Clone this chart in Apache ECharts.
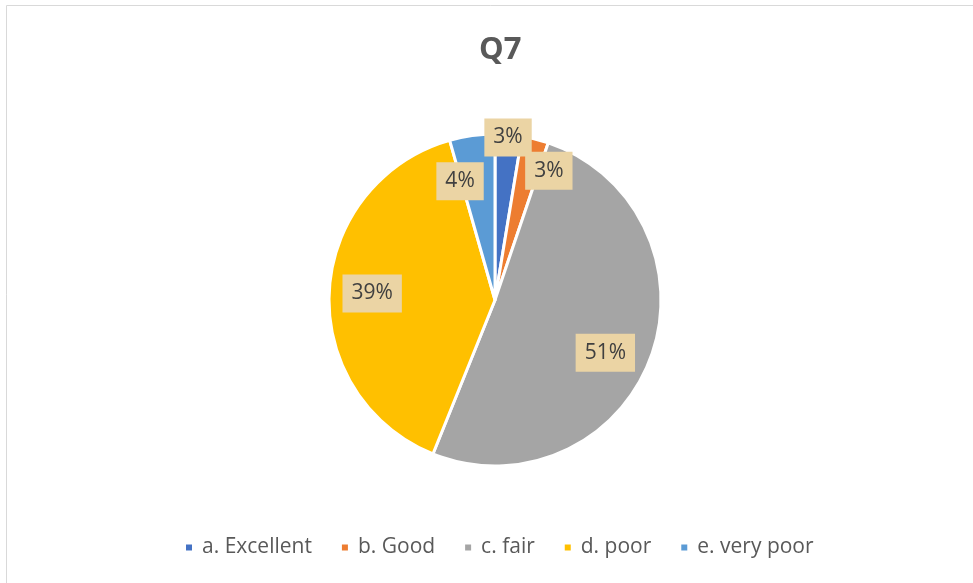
<!DOCTYPE html>
<html>
<head>
<meta charset="utf-8">
<script src="https://cdn.jsdelivr.net/npm/echarts@6/dist/echarts.min.js"></script>
<style>
html,body{margin:0;padding:0;background:#fff;}
#chart{width:973px;height:583px;}
</style>
</head>
<body>
<div id="chart"></div>
<script>
// ---- data ----
const chartTitle = 'Q7';
const categories = ['a. Excellent', 'b. Good', 'c. fair', 'd. poor', 'e. very poor'];
const values = [2.6, 2.6, 50.9, 39.5, 4.4];
const labelTexts = ['3%', '3%', '51%', '39%', '4%'];

// ---- styling ----
const colors = ['#4472C4', '#ED7D31', '#A5A5A5', '#FFC000', '#5B9BD5'];
// label nudges (layout only, pixels) to mimic Excel "best fit"
const labelNudges = [[3, -40], [24, -10], [-5, 10], [0, 0], [-18, 3]];

const chart = echarts.init(document.getElementById('chart'), null, {renderer: 'canvas'});
const pieData = categories.map((c, i) => ({name: c, value: values[i]}));

chart.setOption({
  animation: false,
  color: colors,
  graphic: [{
    type: 'rect',
    shape: {x: 6.5, y: 5.5, width: 1000, height: 1000},
    style: {fill: 'none', stroke: '#D9D9D9', lineWidth: 1},
    silent: true
  }],
  title: {
    text: chartTitle,
    left: 474,
    top: 30,
    textStyle: {fontFamily: 'Open Sans', fontSize: 31, fontWeight: 'bold', color: '#595959'}
  },
  legend: {
    data: categories,
    bottom: 20,
    left: 179,
    icon: 'rect',
    itemWidth: 8,
    itemHeight: 8,
    itemGap: 28,
    textStyle: {fontFamily: 'Open Sans', fontSize: 21, color: '#595959', padding: [0, 0, 0, 4]}
  },
  series: [
    {
      type: 'pie',
      center: [495, 300],
      radius: [0, 166],
      startAngle: 90,
      clockwise: true,
      data: pieData,
      itemStyle: {borderColor: '#fff', borderWidth: 3},
      label: {show: false},
      labelLine: {show: false},
      emphasis: {disabled: true},
      silent: true
    },
    {
      type: 'pie',
      center: [495, 300],
      radius: [74, 166],
      startAngle: 90,
      clockwise: true,
      data: pieData,
      itemStyle: {color: 'rgba(0,0,0,0)', borderWidth: 0},
      label: {
        show: true,
        position: 'inside',
        formatter: p => labelTexts[p.dataIndex],
        fontFamily: 'Open Sans',
        fontSize: 21,
        color: '#404040',
        backgroundColor: '#EBD4A4',
        padding: [9, 9, 8, 9]
      },
      labelLayout: p => ({dx: labelNudges[p.dataIndex][0], dy: labelNudges[p.dataIndex][1]}),
      labelLine: {show: false},
      emphasis: {disabled: true},
      legendHoverLink: false,
      silent: true
    }
  ]
});
</script>
</body>
</html>
